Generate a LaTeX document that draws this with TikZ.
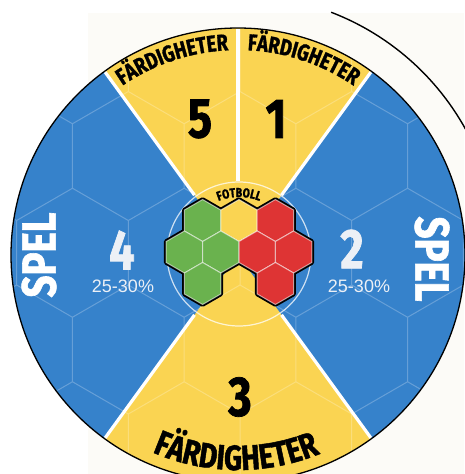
\documentclass[tikz,border=0pt]{standalone}
\usepackage{fontspec}
\setmainfont{Fira Sans}
\newfontfamily\dispfont{Fira Sans}[FakeStretch=0.8, FakeBold=1.3]
\newfontfamily\pctfont{Liberation Sans}
\usetikzlibrary{decorations.text}
\definecolor{spelblue}{RGB}{54,130,203}
\definecolor{skillyellow}{RGB}{250,212,82}
\definecolor{hexgreen}{RGB}{106,178,78}
\definecolor{hexred}{RGB}{222,52,52}
\definecolor{paper}{RGB}{252,251,247}
\definecolor{numwhite}{RGB}{236,240,246}
\tikzset{
  arctext/.style n args={2}{decorate, decoration={text along path, text align=center,
    text={|\dispfont\bfseries\fontsize{#1}{#1}\selectfont|#2}}},
  hexpath/.style={insert path={+(30:#1) -- +(90:#1) -- +(150:#1) -- +(210:#1) -- +(270:#1) -- +(330:#1) -- cycle}}
}
\begin{document}
\begin{tikzpicture}[x=1pt, y=1pt,
  divider/.style={white, line width=3.2},
  gridline/.style={white, opacity=0.24, line width=1},
  bignum/.style={font=\dispfont\bfseries\fontsize{56}{56}\selectfont, inner sep=0},
  spel/.style={font=\dispfont\bfseries\fontsize{48}{48}\selectfont, text=white, inner sep=0},
  pct/.style={font=\pctfont\fontsize{18}{18}\selectfont, text=numwhite, inner sep=0},
  cell/.style={draw=white, draw opacity=0.55, line width=1}
]
\useasboundingbox (0,0) rectangle (464,-474);
\fill[paper] (88,-13) rectangle (464,-474);
\begin{scope}[shift={(238,-255)}]
\coordinate (C) at (0,0);
\draw[line width=1.4] (69:260) arc[start angle=69, end angle=20, radius=260];
\fill[spelblue] (C) circle[radius=227];
\fill[skillyellow] (C) -- (54:227) arc[start angle=54, end angle=126, radius=227] -- cycle;
\fill[skillyellow] (C) -- (-126:227) arc[start angle=-126, end angle=-54, radius=227] -- cycle;
\begin{scope}
\clip (C) circle[radius=226];
\draw[gridline] \foreach \j in {0,...,5} { \foreach \i in {-3,...,2} {
  ({2+55.86*mod(\j,2)+111.7*\i}, {292.5-96.75*\j}) [hexpath=64.5] } };
\end{scope}
\draw[line width=1.3] (C) circle[radius=227];
\foreach \a in {54,90,126,-54,-126} \draw[divider] (\a:74) -- (\a:226);
\draw[white, opacity=0.75, line width=1.2] (1,1) circle[radius=72];
\begin{scope}[shift={(1,3)}]
\foreach \dx/\dy in {-36.4/31.5, 0/31.5, 36.4/31.5, -54.6/0, -18.2/0, 18.2/0, 54.6/0, -36.4/-31.5, 36.4/-31.5}
  \draw[black, line width=4.5, line join=round] (\dx,\dy) [hexpath=21];
\foreach \dx/\dy/\c in {-36.4/31.5/hexgreen, 0/31.5/skillyellow, 36.4/31.5/hexred,
  -54.6/0/hexgreen, -18.2/0/hexgreen, 18.2/0/hexred, 54.6/0/hexred,
  -36.4/-31.5/hexgreen, 36.4/-31.5/hexred}
  \draw[cell, fill=\c] (\dx,\dy) [hexpath=21];
\path[arctext={13}{FOTBOLL}] (125:55) arc[start angle=125, end angle=55, radius=55];
\end{scope}
\path[arctext={23}{FÄRDIGHETER}] (128.5:205) arc[start angle=128.5, end angle=88.5, radius=205];
\path[arctext={23}{FÄRDIGHETER}] (91.5:205) arc[start angle=91.5, end angle=51.5, radius=205];
\path[arctext={35}{FÄRDIGHETER}] (-125:215) arc[start angle=-125, end angle=-56, radius=215];
\node[bignum] (five) at (-38,136) {5};
\node[bignum] (one) at (38,136) {1};
\node[bignum] (three) at (2,-142) {3};
\node[bignum, text=numwhite] (four) at (-116,5) {4};
\node[bignum, text=numwhite] (two) at (114,6) {2};
\node[pct] (pctleft) at (-115,-31) {25-30\%};
\node[pct] (pctright) at (121,-31) {25-30\%};
\node[spel, rotate=90] (spelleft) at (-199,0) {SPEL};
\node[spel, rotate=-90] (spelright) at (194,-4) {SPEL};
\end{scope}
\end{tikzpicture}
\end{document}
